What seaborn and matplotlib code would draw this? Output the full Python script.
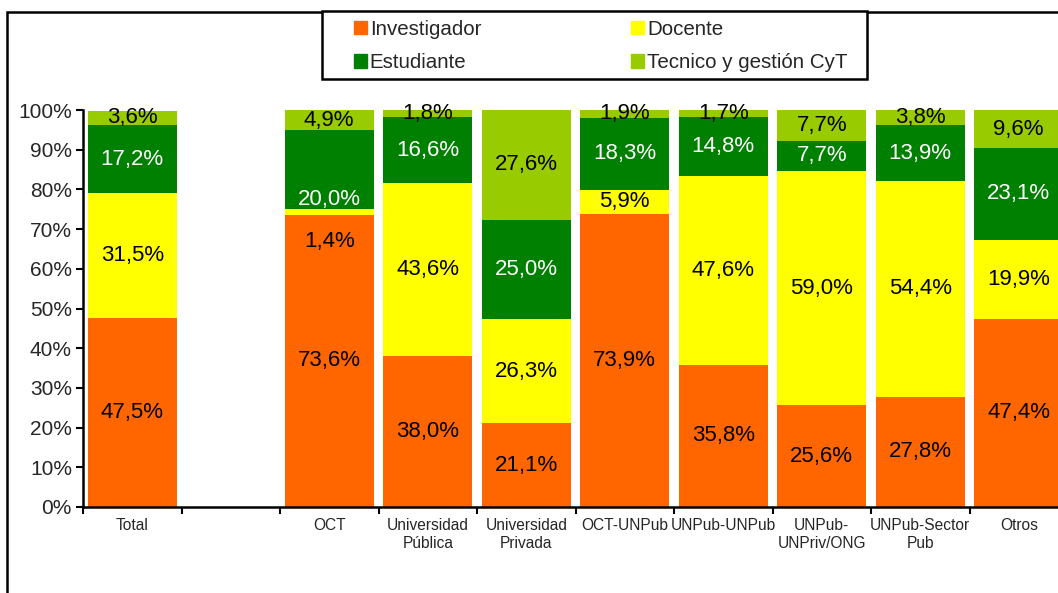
import numpy as np
import pandas as pd
import matplotlib
matplotlib.use('Agg')
from matplotlib import pyplot as plt
from matplotlib.patches import Rectangle
import seaborn as sns

# Data (percent of each group)
categories = ['Total', '', 'OCT', 'Universidad\nPública', 'Universidad\nPrivada', 'OCT-UNPub',
              'UNPub-UNPub', 'UNPub-\nUNPriv/ONG', 'UNPub-Sector\nPub', 'Otros']
investigador = [47.5, 0, 73.6, 38.0, 21.1, 73.9, 35.8, 25.6, 27.8, 47.4]
docente = [31.5, 0, 1.4, 43.6, 26.3, 5.9, 47.6, 59.0, 54.4, 19.9]
estudiante = [17.2, 0, 20.0, 16.6, 25.0, 18.3, 14.8, 7.7, 13.9, 23.1]
tecnico = [3.6, 0, 4.9, 1.8, 27.6, 1.9, 1.7, 7.7, 3.8, 9.6]

series = ['Investigador', 'Docente', 'Estudiante', 'Tecnico y gestión CyT']
colors = ['#FF6600', '#FFFF00', '#008000', '#99CC00']
text_colors = ['black', 'black', 'white', 'black']

# labels that were moved by hand in the original chart (in % units)
label_nudge = {('OCT', 'Docente'): -7.5, ('OCT', 'Estudiante'): -7.5}

sns.set_style('white')
plt.rcParams['font.family'] = ['Liberation Sans', 'DejaVu Sans']

df = pd.DataFrame({'cat': categories, series[0]: investigador, series[1]: docente,
                   series[2]: estudiante, series[3]: tecnico})
tops = df[series].cumsum(axis=1)
bottoms = tops - df[series]

fig = plt.figure(figsize=(10.58, 5.93), dpi=100)
ax = fig.add_axes([83 / 1058, 86 / 593, 985 / 1058, 397 / 593])

# overlapping cumulative bars, top layer first
for i in range(len(series) - 1, -1, -1):
    sns.barplot(x=df['cat'], y=tops[series[i]], color=colors[i], width=0.9,
                order=categories, ax=ax, saturation=1, edgecolor='none')

# value labels in the middle of each segment
for j, cat in enumerate(categories):
    if cat == '':
        continue
    for i, s in enumerate(series):
        v = df.loc[j, s]
        y = bottoms.loc[j, s] + v / 2 + label_nudge.get((cat, s), 0)
        ax.text(j, y, f'{v:.1f}%'.replace('.', ','), ha='center', va='center',
                fontsize=16, color=text_colors[i])

ax.set_xlim(-0.5, len(categories) - 0.5)
ax.set_ylim(0, 100)
ax.set_yticks(np.arange(0, 101, 10))
ax.set_yticklabels([f'{t}%' for t in range(0, 101, 10)], fontsize=15)
ax.set_xticks(np.arange(-0.5, len(categories), 1))
ax.set_xticklabels([])
ax.set_xticks(np.arange(len(categories)), minor=True)
ax.set_xticklabels(categories, minor=True, fontsize=11.2)
ax.tick_params(axis='x', which='minor', length=0, pad=8)
ax.tick_params(axis='x', which='major', direction='out', length=5, width=1.5, color='black', bottom=True)
ax.tick_params(axis='y', direction='out', length=5, width=1.5, color='black', left=True, pad=3)
ax.set_xlabel('')
ax.set_ylabel('')
for side in ['top', 'right']:
    ax.spines[side].set_visible(False)
for side in ['left', 'bottom']:
    ax.spines[side].set_color('black')
    ax.spines[side].set_linewidth(1.8)

# chart area border (top and left visible)
fig.patches.append(Rectangle((7 / 1058, -0.1), 1.2, (593 - 12) / 593 + 0.1, transform=fig.transFigure,
                             fill=False, edgecolor='black', linewidth=1.8))

# legend box
fig.patches.append(Rectangle((322 / 1058, 1 - 79 / 593), 545 / 1058, 68 / 593, transform=fig.transFigure,
                             facecolor='white', edgecolor='black', linewidth=1.8))
handles = [Rectangle((0, 0), 1, 1, color=c) for c in colors]
order = [0, 2, 1, 3]  # row-wise order like the original
leg = fig.legend([handles[k] for k in order], [series[k] for k in order], loc='upper left', ncol=2,
                 bbox_to_anchor=(354 / 1058, 1 - 20 / 593), fontsize=14.8, frameon=False,
                 handlelength=0.62, handleheight=0.62, handletextpad=0.15, labelspacing=0.7,
                 columnspacing=7.3, borderpad=0, borderaxespad=0)

fig.savefig('out.png', dpi=100)
